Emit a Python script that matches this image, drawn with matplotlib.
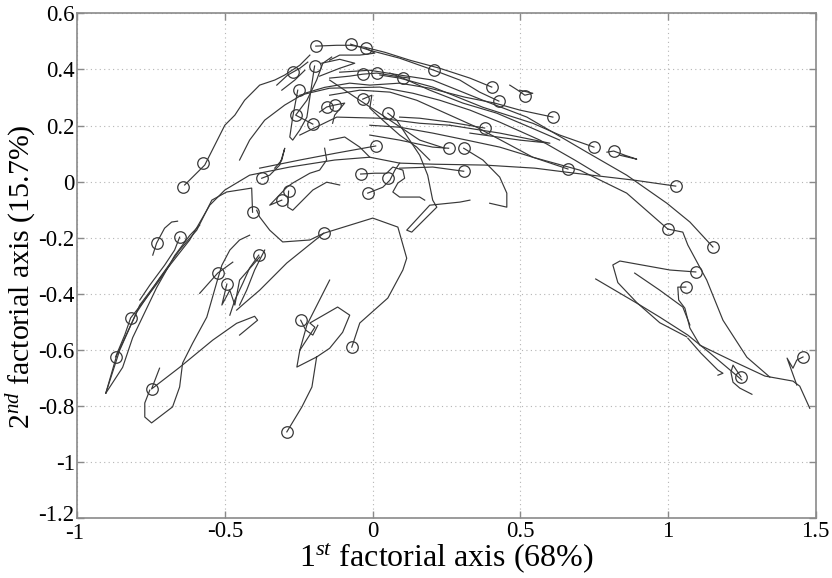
import matplotlib
matplotlib.use("Agg")
import matplotlib.pyplot as plt
from matplotlib.transforms import ScaledTranslation

plt.rcParams['font.family'] = ['Liberation Serif', 'DejaVu Serif']
plt.rcParams['mathtext.fontset'] = 'custom'
plt.rcParams['mathtext.rm'] = 'Liberation Serif'
plt.rcParams['mathtext.it'] = 'Liberation Serif:italic'
plt.rcParams['axes.unicode_minus'] = False

# ---- data: trajectories in the first factorial plane ----
tr01 = [(-0.637,-0.012),(-0.569,0.059),(-0.535,0.130),(-0.501,0.201),(-0.467,0.237),(-0.434,0.290),(-0.383,0.344),(-0.332,0.362),(-0.298,0.380),(-0.247,0.415),(-0.213,0.451)]
tr02 = [(-0.451,0.077),(-0.417,0.148),(-0.366,0.219),(-0.298,0.273),(-0.230,0.315),(-0.163,0.336),(-0.078,0.351),(-0.010,0.344),(0.091,0.351),(0.193,0.333),(0.312,0.301),(0.413,0.280),(0.498,0.255),(0.610,0.230)]
tr03 = [(1.026,-0.016),(0.887,0.005),(0.684,0.030),(0.549,0.048),(0.379,0.059),(0.210,0.062),(0.091,0.066),(-0.010,0.087),(-0.129,0.077),(-0.281,0.052),(-0.417,0.023),(-0.501,-0.030),(-0.552,-0.084),(-0.620,-0.208),(-0.705,-0.322),(-0.789,-0.440),(-0.857,-0.601),(-0.904,-0.754)]
tr04 = [(-0.407,-0.109),(-0.410,-0.023),(-0.495,-0.037),(-0.545,-0.066),(-0.596,-0.173),(-0.654,-0.244),(-0.722,-0.344),(-0.799,-0.465),(-0.867,-0.619),(-0.904,-0.754)]
tr05 = [(-0.904,-0.754),(-0.847,-0.662),(-0.813,-0.556),(-0.732,-0.378),(-0.671,-0.264),(-0.620,-0.192),(-0.586,-0.155)]
tr06 = [(-0.871,-0.625),(-0.840,-0.547),(-0.820,-0.486),(-0.772,-0.422),(-0.722,-0.351),(-0.688,-0.298)]
tr07 = [(-0.745,-0.262),(-0.732,-0.219),(-0.705,-0.166),(-0.681,-0.144),(-0.661,-0.141)]
tr08 = [(-0.654,-0.198),(-0.671,-0.244),(-0.705,-0.298),(-0.755,-0.369),(-0.789,-0.422)]
tr09 = [(-0.722,-0.665),(-0.749,-0.739),(-0.654,-0.662),(-0.542,-0.565),(-0.461,-0.505),(-0.400,-0.480),(-0.390,-0.494),(-0.451,-0.547)]
tr10 = [(-0.755,-0.743),(-0.772,-0.789),(-0.772,-0.839),(-0.749,-0.860),(-0.678,-0.803),(-0.654,-0.732),(-0.644,-0.647),(-0.610,-0.576),(-0.562,-0.483),(-0.528,-0.358),(-0.511,-0.298),(-0.484,-0.244),(-0.451,-0.208),(-0.417,-0.191)]
tr11 = [(-0.586,-0.398),(-0.525,-0.326),(-0.474,-0.287)]
tr12 = [(-0.494,-0.365),(-0.511,-0.440),(-0.484,-0.387),(-0.467,-0.440),(-0.451,-0.351),(-0.383,-0.269)]
tr13 = [(-0.386,-0.262),(-0.417,-0.308),(-0.440,-0.362),(-0.467,-0.422),(-0.484,-0.476)]
tr14 = [(-0.366,-0.244),(-0.400,-0.315),(-0.427,-0.387),(-0.451,-0.440)]
tr15 = [(-0.291,-0.892),(-0.240,-0.803),(-0.206,-0.732),(-0.190,-0.625),(-0.257,-0.661),(-0.247,-0.601),(-0.196,-0.519),(-0.213,-0.504),(-0.119,-0.447),(-0.078,-0.476),(-0.102,-0.537),(-0.146,-0.594),(-0.190,-0.625)]
tr16 = [(-0.146,-0.351),(-0.223,-0.511),(-0.247,-0.601)]
tr17 = [(-0.244,-0.494),(-0.227,-0.529),(-0.203,-0.547),(-0.186,-0.512)]
tr18 = [(-0.071,-0.590),(-0.044,-0.504),(0.051,-0.415),(0.102,-0.315),(0.115,-0.273),(0.085,-0.162),(0.000,-0.130),(-0.166,-0.184),(-0.213,-0.208),(-0.305,-0.215),(-0.349,-0.173),(-0.383,-0.126),(-0.393,-0.102)]
tr19 = [(-0.166,-0.184),(-0.291,-0.290),(-0.383,-0.387),(-0.434,-0.433),(-0.461,-0.458)]
tr20 = [(0.051,0.244),(0.081,0.219),(0.125,0.148),(0.159,0.094),(0.186,0.023),(0.203,-0.066),(0.217,-0.091),(0.132,-0.180),(0.115,-0.173),(0.193,-0.084),(0.295,-0.073),(0.329,-0.066)]
tr21 = [(-0.041,0.027),(0.007,0.030),(0.047,0.030),(0.068,0.052),(0.102,0.041),(0.108,0.012),(0.085,-0.005),(0.068,-0.037),(0.091,-0.055),(0.159,-0.055),(0.176,-0.066)]
tr22 = [(-0.017,-0.041),(0.034,-0.020),(0.058,0.005),(0.075,0.041),(0.091,0.066)]
tr23 = [(0.010,0.127),(-0.122,0.102),(-0.247,0.077),(-0.383,0.048)]
tr24 = [(-0.376,0.012),(-0.349,0.023),(-0.315,0.059),(-0.298,0.119),(-0.308,0.077),(-0.332,0.048)]
tr25 = [(-0.308,-0.066),(-0.349,-0.084),(-0.291,-0.020),(-0.271,-0.005),(-0.213,0.030),(-0.180,0.041),(-0.156,0.077),(-0.163,0.119)]
tr26 = [(-0.285,-0.034),(-0.288,-0.091),(-0.271,-0.102),(-0.237,-0.066),(-0.203,-0.030),(-0.156,-0.002),(-0.112,-0.012)]
tr27 = [(-0.193,0.483),(-0.122,0.486),(-0.078,0.486),(-0.027,0.479),(0.041,0.461),(0.125,0.433),(0.227,0.404),(0.329,0.369),(0.403,0.337)]
tr28 = [(-0.075,0.490),(-0.010,0.468),(0.091,0.440),(0.207,0.397),(0.295,0.362),(0.362,0.319),(0.427,0.287)]
tr29 = [(-0.024,0.476),(0.007,0.458),(-0.044,0.451),(-0.112,0.451),(-0.146,0.433)]
tr30 = [(0.464,0.344),(0.491,0.326),(0.515,0.308),(0.542,0.315),(0.498,0.326)]
tr31 = [(0.793,0.105),(0.816,0.109),(0.854,0.094),(0.894,0.080),(0.837,0.094)]
tr32 = [(-0.112,0.390),(-0.010,0.397),(0.091,0.380),(0.203,0.362),(0.373,0.290),(0.522,0.230),(0.725,0.105),(0.860,0.023),(0.996,-0.077),(1.074,-0.144),(1.152,-0.233)]
tr33 = [(-0.146,0.308),(-0.044,0.326),(0.058,0.319),(0.149,0.290),(0.352,0.194),(0.542,0.087),(0.701,0.041),(0.860,-0.041),(0.999,-0.169)]
tr34 = [(0.999,-0.169),(1.050,-0.180),(1.067,-0.226),(1.131,-0.351),(1.186,-0.494),(1.267,-0.626),(1.345,-0.697)]
tr35 = [(0.749,0.123),(0.633,0.166),(0.542,0.208),(0.373,0.265),(0.203,0.337),(0.091,0.369),(0.024,0.380)]
tr36 = [(0.379,0.191),(0.261,0.212),(0.159,0.226),(0.091,0.230)]
tr37 = [(0.261,0.201),(0.430,0.173),(0.600,0.137),(0.498,0.148),(0.329,0.173)]
tr38 = [(0.661,0.045),(0.542,0.087),(0.430,0.123),(0.318,0.148),(0.203,0.173),(0.091,0.194),(-0.010,0.201)]
tr39 = [(0.308,0.119),(0.373,0.077),(0.430,0.016),(0.454,-0.041),(0.454,-0.091),(0.396,-0.077)]
tr40 = [(0.308,0.037),(0.203,0.052),(0.091,0.048)]
tr41 = [(0.257,0.119),(0.203,0.123),(0.091,0.148),(-0.010,0.166)]
tr42 = [(-0.325,0.344),(-0.288,0.380),(-0.271,0.390),(-0.247,0.404),(-0.220,0.426)]
tr43 = [(-0.308,0.326),(-0.264,0.362),(-0.230,0.397)]
tr44 = [(-0.197,0.412),(-0.213,0.301),(-0.223,0.230),(-0.247,0.184),(-0.271,0.148),(-0.281,0.159),(-0.271,0.230),(-0.254,0.326)]
tr45 = [(-0.203,0.205),(-0.261,0.237),(-0.223,0.290),(-0.190,0.362),(-0.169,0.422),(-0.139,0.444)]
tr46 = [(-0.180,0.248),(-0.156,0.266),(-0.129,0.273),(-0.095,0.280),(-0.129,0.237),(-0.136,0.208)]
tr47 = [(-0.146,0.369),(-0.078,0.376),(-0.034,0.383),(0.014,0.387),(0.075,0.376),(0.125,0.369)]
tr48 = [(0.058,0.387),(0.102,0.369),(0.193,0.326),(0.305,0.280),(0.420,0.244),(0.532,0.194),(0.633,0.148)]
tr49 = [(-0.034,0.294),(-0.003,0.308),(-0.010,0.262),(0.034,0.219),(0.091,0.166),(0.149,0.123),(0.193,0.077)]
tr50 = [(-0.247,0.308),(-0.146,0.333),(0.024,0.337),(0.136,0.315),(0.227,0.290),(0.329,0.255),(0.430,0.212),(0.566,0.148),(0.684,0.077),(0.769,0.023)]
tr51 = [(-0.173,0.422),(-0.112,0.436),(-0.061,0.422),(-0.112,0.404),(-0.180,0.376)]
tr52 = [(-0.146,0.362),(-0.044,0.290),(0.058,0.219),(0.159,0.148),(0.244,0.119)]
tr53 = [(1.060,-0.376),(1.033,-0.376),(1.036,-0.422),(1.057,-0.451),(1.074,-0.522),(1.108,-0.583),(1.220,-0.640),(1.328,-0.693),(1.423,-0.711),(1.446,-0.729),(1.480,-0.808)]
tr54 = [(1.457,-0.625),(1.436,-0.636),(1.423,-0.665),(1.403,-0.629),(1.436,-0.725)]
tr55 = [(1.094,-0.322),(1.006,-0.315),(0.837,-0.283),(0.813,-0.297),(0.830,-0.360),(0.894,-0.431),(0.972,-0.503),(1.063,-0.553)]
tr56 = [(0.755,-0.347),(0.894,-0.433),(0.972,-0.483),(1.067,-0.547),(1.142,-0.611),(1.250,-0.707)]
tr57 = [(0.887,-0.326),(0.972,-0.387),(1.050,-0.447),(1.074,-0.511)]
tr58 = [(1.067,-0.558),(1.111,-0.611),(1.169,-0.672),(1.186,-0.683),(1.169,-0.690)]
tr59 = [(1.247,-0.696),(1.220,-0.654),(1.213,-0.679),(1.220,-0.715),(1.243,-0.736),(1.284,-0.758)]
tr60 = [(-0.146,0.148),(-0.095,0.159),(-0.044,0.123),(-0.010,0.087)]
tr61 = [(-0.247,0.166),(-0.122,0.230),(0.024,0.226),(0.159,0.208),(0.261,0.201)]

trajectories = [tr01, tr02, tr03, tr04, tr05, tr06, tr07, tr08, tr09, tr10,
                tr11, tr12, tr13, tr14, tr15, tr16, tr17, tr18, tr19, tr20,
                tr21, tr22, tr23, tr24, tr25, tr26, tr27, tr28, tr29, tr30,
                tr31, tr32, tr33, tr34, tr35, tr36, tr37, tr38, tr39, tr40,
                tr41, tr42, tr43, tr44, tr45, tr46, tr47, tr48, tr49, tr50,
                tr51, tr52, tr53, tr54, tr55, tr56, tr57, tr58, tr59, tr60, tr61]

# circle markers (trajectory end points)
circle_x = [-0.193,-0.075,-0.024,-0.271,-0.197,-0.251,-0.261,-0.203,-0.156,-0.129,-0.034,0.014,-0.034,0.051,0.010,-0.041,0.051,-0.017,0.102,-0.576,-0.644,-0.376,-0.308,-0.285,-0.407,-0.166,-0.654,-0.732,-0.386,-0.525,-0.494,-0.820,-0.871,-0.749,-0.244,-0.071,-0.291,0.207,0.403,0.427,0.515,0.610,0.379,0.257,0.308,0.308,0.749,0.816,0.661,1.026,0.999,1.152,1.094,1.060,1.247,1.457]
circle_y = [0.483,0.490,0.476,0.390,0.412,0.326,0.237,0.205,0.266,0.273,0.383,0.387,0.294,0.244,0.127,0.027,0.012,-0.041,0.369,0.066,-0.020,0.012,-0.066,-0.034,-0.109,-0.184,-0.198,-0.219,-0.262,-0.326,-0.365,-0.486,-0.625,-0.739,-0.494,-0.590,-0.892,0.397,0.337,0.287,0.305,0.230,0.191,0.119,0.119,0.037,0.123,0.109,0.045,-0.016,-0.169,-0.233,-0.322,-0.376,-0.696,-0.625]

x_ticks = [-1, -0.5, 0, 0.5, 1, 1.5]
x_tick_labels = ['-1', '-0.5', '0', '0.5', '1', '1.5']
y_ticks = [-1.2, -1.0, -0.8, -0.6, -0.4, -0.2, 0, 0.2, 0.4, 0.6]
y_tick_labels = ['-1.2', '-1', '-0.8', '-0.6', '-0.4', '-0.2', '0', '0.2', '0.4', '0.6']

# ---- plotting ----
fig = plt.figure(figsize=(8.32, 5.78), dpi=100)
ax = fig.add_axes([0.0931, 0.1033, 0.8873, 0.8737])

line_color = '#383838'
for tr in trajectories:
    xs = [p[0] for p in tr]
    ys = [p[1] for p in tr]
    ax.plot(xs, ys, color=line_color, lw=0.85, zorder=3)

ax.plot(circle_x, circle_y, linestyle='none', marker='o', ms=8.3,
        mfc='none', mec=line_color, mew=0.9, zorder=4)

ax.set_xlim(-1, 1.5)
ax.set_ylim(-1.2, 0.6)
ax.set_xticks(x_ticks)
ax.set_xticklabels(x_tick_labels)
ax.set_yticks(y_ticks)
ax.set_yticklabels(y_tick_labels)

ax.grid(True, color='#b5b5b5', linestyle=(0, (1, 3)), lw=0.8, zorder=0)
for s in ax.spines.values():
    s.set_color('#8a8a8a')
    s.set_linewidth(1.2)
ax.tick_params(direction='in', length=5, width=1, color='#8a8a8a',
               labelsize=16.5, top=True, right=True, pad=2)

# small nudges so the corner labels "-1.2" and "-1" do not collide
ax.get_yticklabels()[0].set_transform(
    ax.get_yticklabels()[0].get_transform() + ScaledTranslation(0, 5/100, fig.dpi_scale_trans))
ax.get_xticklabels()[0].set_transform(
    ax.get_xticklabels()[0].get_transform() + ScaledTranslation(-3/100, -2/100, fig.dpi_scale_trans))

ax.set_xlabel(r'$1^{st}$ factorial axis (68%)', fontsize=23, labelpad=-2)
ax.set_ylabel(r'$2^{nd}$ factorial axis (15.7%)', fontsize=21.5)
ax.yaxis.set_label_coords(-0.053, 0.478)

fig.savefig('out.png', dpi=100)
